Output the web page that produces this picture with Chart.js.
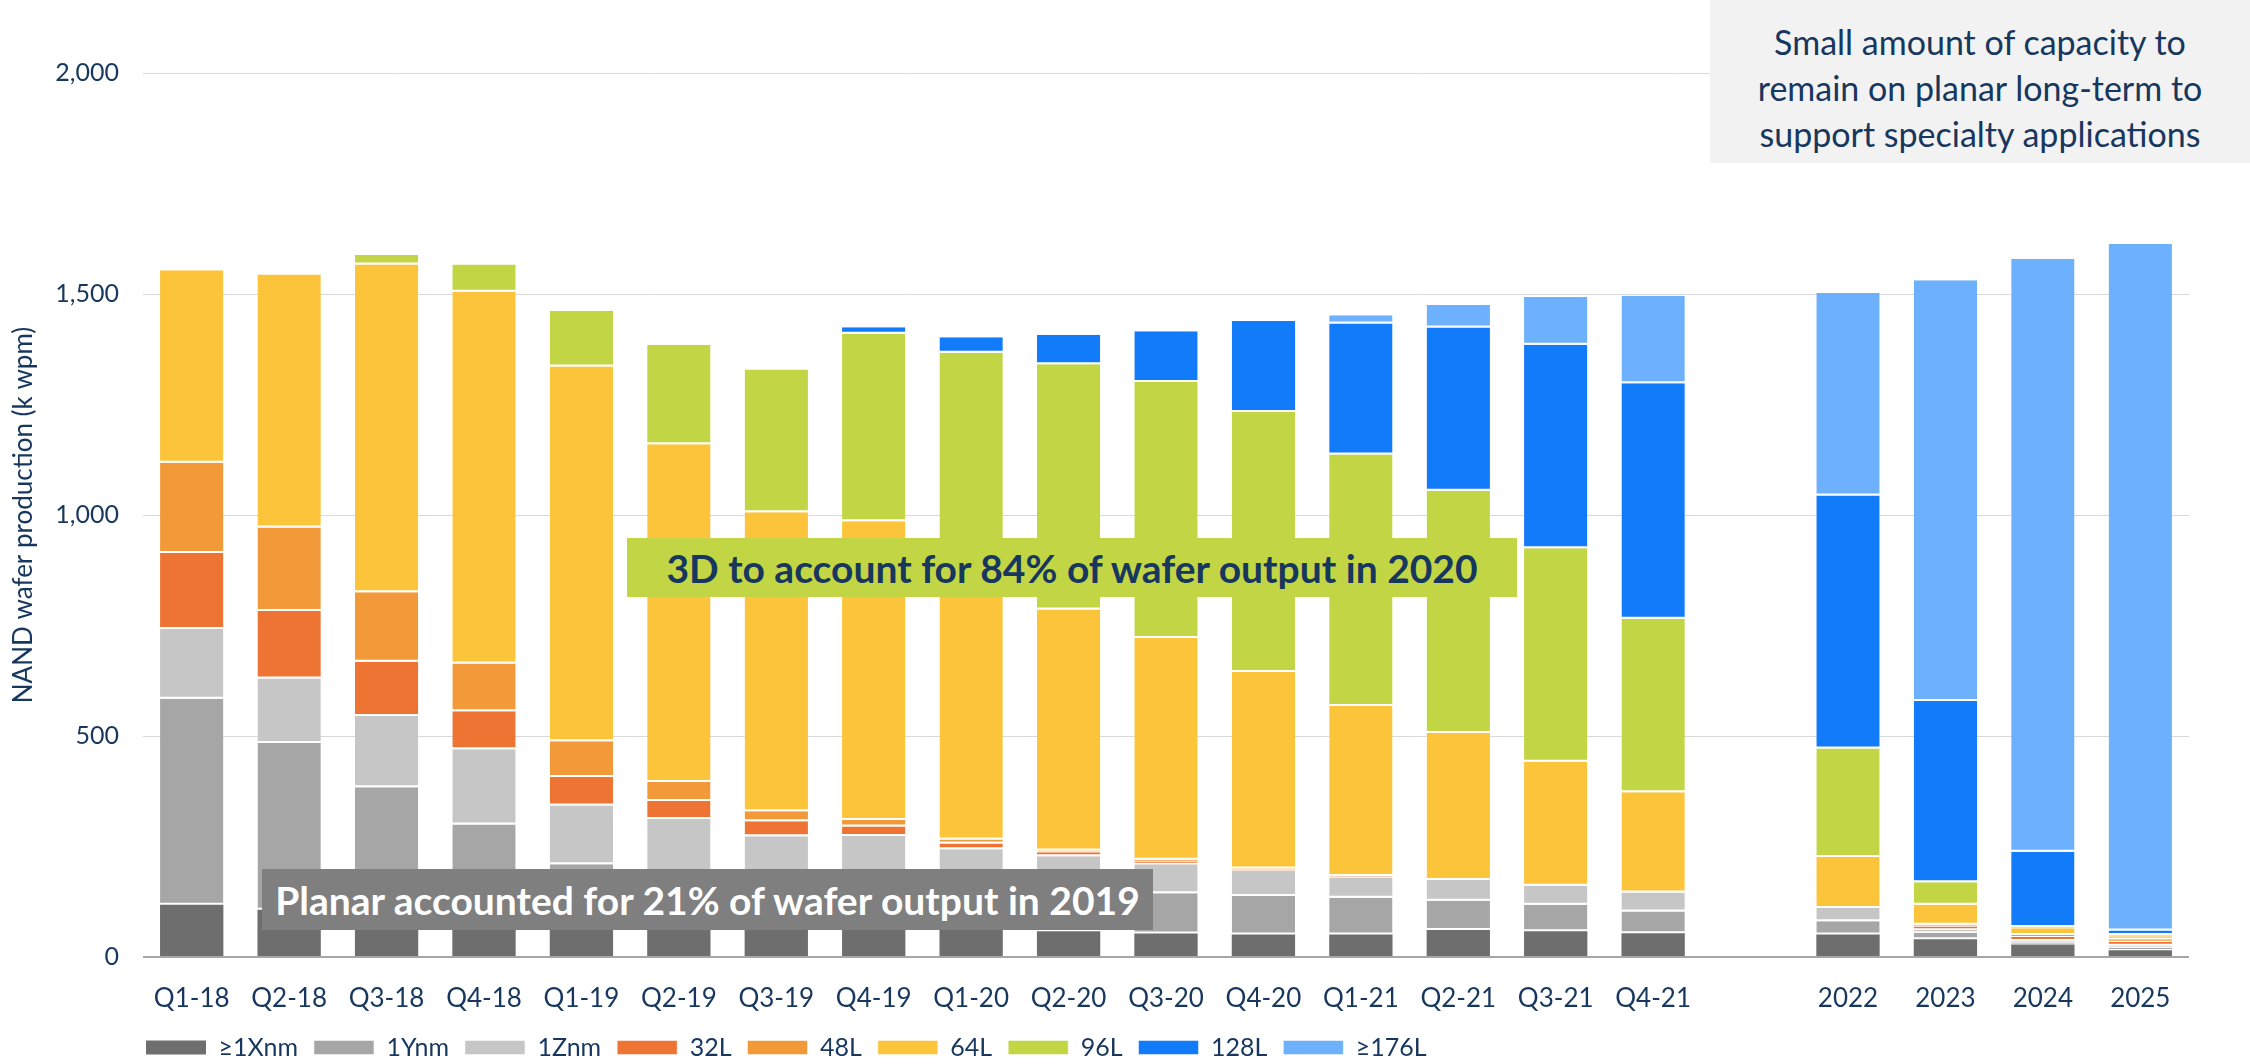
<!DOCTYPE html>
<html>
<head>
<meta charset="utf-8">
<title>NAND wafer production</title>
<script src="https://cdn.jsdelivr.net/npm/chart.js@4.4.1/dist/chart.umd.min.js"></script>
<style>
  html, body { margin: 0; padding: 0; background: #fff; }
  #wrap { position: relative; width: 2250px; height: 1064px; font-family: Lato, "Open Sans", sans-serif; }
  #nandChart { position: absolute; left: 0; top: 0; }
  .note { position: absolute; box-sizing: border-box; display: flex; align-items: center; justify-content: center; font-weight: 700; font-size: 39px; white-space: nowrap; }
  #note3d { left: 627px; top: 538px; width: 890px; height: 59px; background: #C2D645; color: #17375E; }
  #notePlanar { left: 262px; top: 869px; width: 891px; height: 61px; background: #7F7F7F; color: #fff; }
  #noteTop { left: 1710px; top: 0; width: 540px; height: 163px; background: #F2F2F2; color: #17375E;
             align-items: flex-start; padding-top: 19px;
             font-weight: 400; font-size: 34px; line-height: 46px; text-align: center; white-space: normal; }
</style>
</head>
<body>
<div id="wrap">
  <canvas id="nandChart" width="2250" height="1064"></canvas>
  <div class="note" id="note3d">3D to account for 84% of wafer output in 2020</div>
  <div class="note" id="notePlanar">Planar accounted for 21% of wafer output in 2019</div>
  <div class="note" id="noteTop"><div>Small amount of capacity to<br>remain on planar long-term to<br>support specialty applications</div></div>
</div>
<script>
// categories (blank slot separates quarters from years)
const categories = ['Q1-18', 'Q2-18', 'Q3-18', 'Q4-18', 'Q1-19', 'Q2-19', 'Q3-19', 'Q4-19',
                    'Q1-20', 'Q2-20', 'Q3-20', 'Q4-20', 'Q1-21', 'Q2-21', 'Q3-21', 'Q4-21',
                    '', '2022', '2023', '2024', '2025'];

// k wpm per technology node
const x1nm = [118, 107, 100, 92, 85, 78, 70, 65, 62, 58, 53, 51, 51, 61, 58, 54, null, 51, 40, 28, 15];
const y1nm = [466, 377, 284, 208, 125, 107, 105, 100, 96, 92, 91, 87, 83, 66, 60, 49, null, 30, 15, 5, 6];
const z1nm = [158, 146, 161, 170, 133, 127, 98, 109, 86, 78, 66, 57, 46, 47, 43, 43, null, 30, 6, 4, 5];
const l32 = [172, 153, 123, 86, 64, 41, 34, 21, 13, 9, 6, 3, 2, 0, 0, 0, null, 0, 8, 8, 8];
const l48 = [204, 189, 157, 108, 81, 43, 23, 15, 9, 4, 4, 2, 1, 0, 0, 0, null, 0, 4, 5, 6];
const l64 = [436, 572, 742, 841, 848, 764, 676, 676, 614, 545, 502, 445, 385, 333, 281, 227, null, 115, 45, 15, 7];
const l96 = [0, 0, 21, 62, 126, 225, 323, 424, 487, 555, 579, 588, 569, 548, 483, 392, null, 246, 51, 3, 3];
const l128 = [0, 0, 0, 0, 0, 0, 0, 15, 35, 67, 115, 206, 296, 369, 460, 533, null, 572, 410, 170, 10];
const l176 = [0, 0, 0, 0, 0, 0, 0, 0, 0, 0, 0, 0, 19, 51, 108, 198, null, 458, 952, 1341, 1553];

const yTicks = [0, 500, 1000, 1500, 2000];

const navy = '#17375E';

function makeSet(label, data, color, first) {
    return {
        label: label,
        data: data,
        backgroundColor: color,
        borderColor: '#ffffff',
        borderWidth: first ? 0 : { top: 0, right: 0, bottom: 2, left: 0 },
        borderSkipped: false,
        barPercentage: 0.65,
        categoryPercentage: 1
    };
}

// move the legend to sit under the plot, left aligned like the original
const legendShift = {
    id: 'legendShift',
    afterLayout(chart) {
        chart.legend.left = 130;
        chart.legend.top += 6;
    }
};

let chart = new Chart(document.getElementById('nandChart').getContext('2d'), {
    type: 'bar',
    data: {
        labels: categories,
        datasets: [
            makeSet('\u22651Xnm', x1nm, '#6E6E6E', true),
            makeSet('1Ynm', y1nm, '#A6A6A6'),
            makeSet('1Znm', z1nm, '#C6C6C6'),
            makeSet('32L', l32, '#EE7434'),
            makeSet('48L', l48, '#F29A3A'),
            makeSet('64L', l64, '#FCC43A'),
            makeSet('96L', l96, '#C2D645'),
            makeSet('128L', l128, '#127BFA'),
            makeSet('\u2265176L', l176, '#6DB0FB')
        ]
    },
    options: {
        responsive: false,
        animation: false,
        layout: { padding: { top: 73, right: 61, bottom: 0, left: 0 } },
        plugins: {
            tooltip: { enabled: false },
            legend: {
                position: 'bottom',
                align: 'start',
                labels: {
                    boxWidth: 60,
                    boxHeight: 14,
                    padding: 16,
                    color: navy,
                    font: { family: 'Lato', size: 25 }
                }
            }
        },
        scales: {
            x: {
                stacked: true,
                grid: { display: false },
                border: { display: false },
                ticks: { color: navy, font: { family: 'Lato', size: 26 }, padding: 18, maxRotation: 0, autoSkip: false },
                afterFit: function(scale) { scale.height = 56; }
            },
            y: {
                stacked: true,
                min: 0,
                max: 2000,
                afterBuildTicks: function(scale) {
                    scale.ticks = yTicks.map(v => ({ value: v }));
                },
                ticks: {
                    color: navy,
                    font: { family: 'Lato', size: 25 },
                    padding: 24,
                    callback: function(value) { return value.toLocaleString('en-US'); }
                },
                grid: {
                    drawTicks: false,
                    color: ctx => ctx.tick && ctx.tick.value === 0 ? '#A6A6A6' : '#D9D9D9',
                    lineWidth: ctx => ctx.tick && ctx.tick.value === 0 ? 2 : 1
                },
                border: { display: false },
                title: {
                    display: true,
                    text: 'NAND wafer production (k wpm)',
                    color: navy,
                    font: { family: 'Lato', size: 26 },
                    padding: { top: 8, bottom: 0 }
                },
                afterFit: function(scale) { scale.width = 143; }
            }
        }
    },
    plugins: [legendShift]
});
</script>
</body>
</html>
